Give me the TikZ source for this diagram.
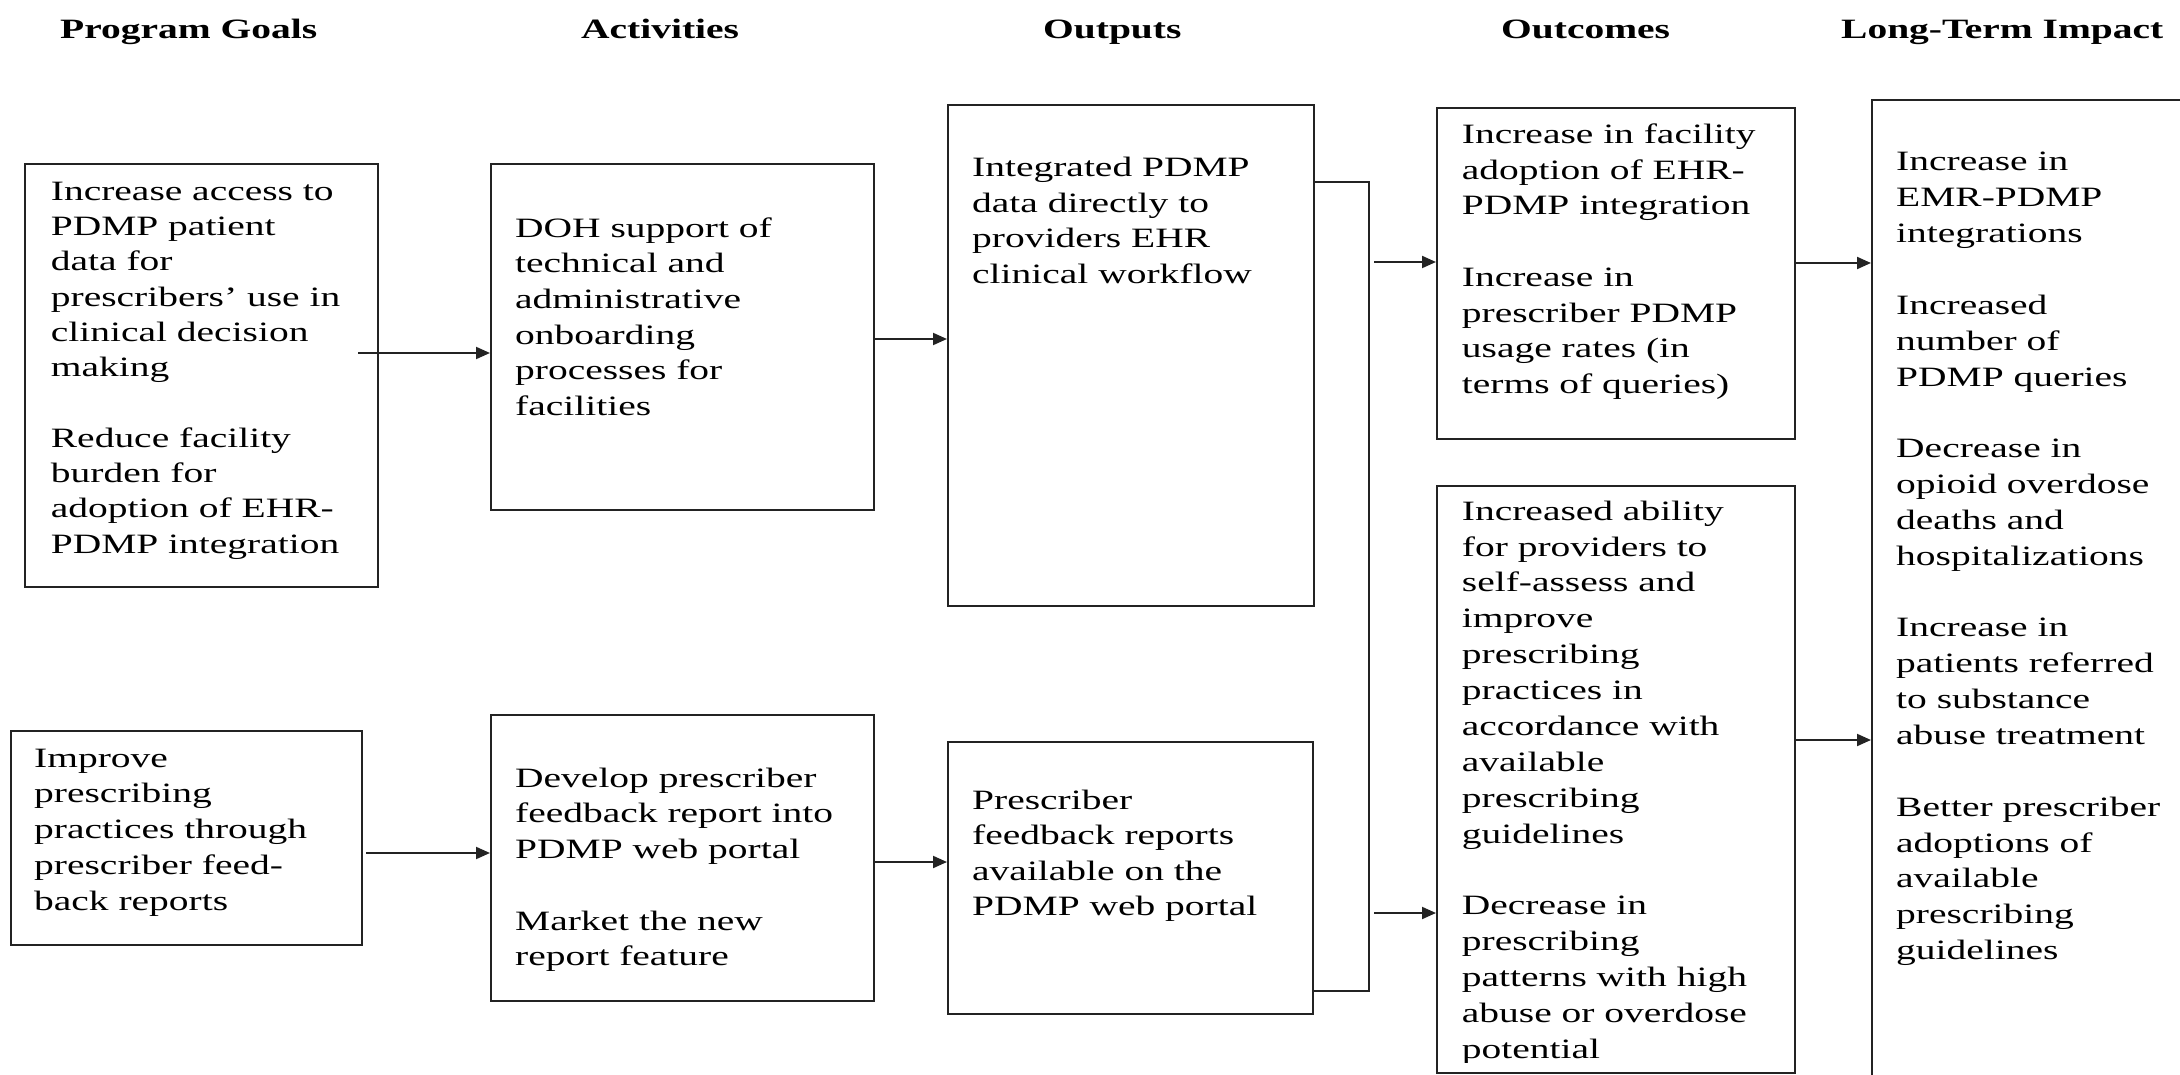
\documentclass[tikz,border=0pt]{standalone}
\usepackage{fontspec}
\setmainfont{Liberation Serif}[FakeStretch=1.41]
\usetikzlibrary{arrows.meta}
\definecolor{lc}{RGB}{35,35,35}
\newcommand\fl{\rule{0pt}{26pt}}
\begin{document}
\begin{tikzpicture}[x=1pt,y=-1pt,
  box/.style={draw=lc, line width=2pt, inner sep=0pt, anchor=north west},
  txt/.style={anchor=north west, inner sep=0pt, align=left, text=black,
              font=\fontsize{28}{#1}\selectfont},
  txt/.default=35.7,
  hdr/.style={anchor=base west, inner sep=0pt, font=\bfseries\fontsize{28}{34}\selectfont},
  line/.style={draw=lc, line width=2pt},
  arr/.style={draw=lc, line width=2pt, -{Triangle[length=14pt,width=12pt]}}]
\useasboundingbox (0,0) rectangle (2180,1075);
\begin{scope}
\clip (0,0) rectangle (2180,1075);

% headers
\node[hdr] (h1) at (60,39) {Program Goals};
\node[hdr] (h2) at (581,39) {Activities};
\node[hdr] (h3) at (1043,39) {Outputs};
\node[hdr] (h4) at (1501,39) {Outcomes};
\node[hdr] (h5) at (1841,39) {Long-Term Impact};

% boxes
\node[box, minimum width=353pt, minimum height=423pt] (g1) at (24,163) {};
\node[box, minimum width=351pt, minimum height=214pt] (g2) at (10,730) {};
\node[box, minimum width=383pt, minimum height=346pt] (a1) at (490,163) {};
\node[box, minimum width=383pt, minimum height=286pt] (a2) at (490,714) {};
\node[box, minimum width=366pt, minimum height=501pt] (o1) at (947,104) {};
\node[box, minimum width=365pt, minimum height=272pt] (o2) at (947,741) {};
\node[box, minimum width=358pt, minimum height=331pt] (c1) at (1436,107) {};
\node[box, minimum width=358pt, minimum height=587pt] (c2) at (1436,485) {};
\node[box, minimum width=400pt, minimum height=1100pt] (l1) at (1871,99) {};

% texts
\node[txt=35.3] (g1t) at (50.7,174) {\fl Increase access to\\PDMP patient\\data for\\prescribers’ use in\\clinical decision\\making\\[35.3pt]Reduce facility\\burden for\\adoption of EHR-\\PDMP integration};
\node[txt] (g2t) at (34,741) {\fl Improve\\prescribing\\practices through\\prescriber feed-\\back reports};
\node[txt] (a1t) at (515,211) {\fl DOH support of\\technical and\\administrative\\onboarding\\processes for\\facilities};
\node[txt] (a2t) at (515,761) {\fl Develop prescriber\\feedback report into\\PDMP web portal\\[35.7pt]Market the new\\report feature};
\node[txt=35.5] (o1t) at (972,150.5) {\fl Integrated PDMP\\data directly to\\providers EHR\\clinical workflow};
\node[txt=35.2] (o2t) at (972,783.5) {\fl Prescriber\\feedback reports\\available on the\\PDMP web portal};
\node[txt] (c1t) at (1461.7,117.3) {\fl Increase in facility\\adoption of EHR-\\PDMP integration\\[35.7pt]Increase in\\prescriber PDMP\\usage rates (in\\terms of queries)};
\begin{scope}
\clip (1437,486) rectangle (1793,1062);
\node[txt=35.87] (c2t) at (1461.7,494) {\fl Increased ability\\for providers to\\self-assess and\\improve\\prescribing\\practices in\\accordance with\\available\\prescribing\\guidelines\\[35.87pt]Decrease in\\prescribing\\patterns with high\\abuse or overdose\\potential};
\end{scope}
\node[txt=35.85] (l1t) at (1896,144.7) {\fl Increase in\\EMR-PDMP\\integrations\\[35.85pt]Increased\\number of\\PDMP queries\\[35.85pt]Decrease in\\opioid overdose\\deaths and\\hospitalizations\\[35.85pt]Increase in\\patients referred\\to substance\\abuse treatment\\[35.85pt]Better prescriber\\adoptions of\\available\\prescribing\\guidelines};

% connectors
\coordinate (s1) at (358,353);
\coordinate (s2) at (366,853);
\coordinate (s3) at (873,339);
\coordinate (s4) at (873,862);
\coordinate (bt) at (1369,182);
\coordinate (bb) at (1369,991);
\coordinate (s5) at (1374,262);
\coordinate (s6) at (1374,913);
\coordinate (s7) at (1794,263);
\coordinate (s8) at (1794,740);

\draw[arr] (s1) -- (s1 -| a1.west);
\draw[arr] (s2) -- (s2 -| a2.west);
\draw[arr] (s3) -- (s3 -| o1.west);
\draw[arr] (s4) -- (s4 -| o2.west);
\draw[line] (o1.east |- bt) -- (bt) -- (bb) -- (o2.east |- bb);
\draw[arr] (s5) -- (s5 -| c1.west);
\draw[arr] (s6) -- (s6 -| c2.west);
\draw[arr] (s7) -- (s7 -| l1.west);
\draw[arr] (s8) -- (s8 -| l1.west);
\end{scope}
\end{tikzpicture}
\end{document}
